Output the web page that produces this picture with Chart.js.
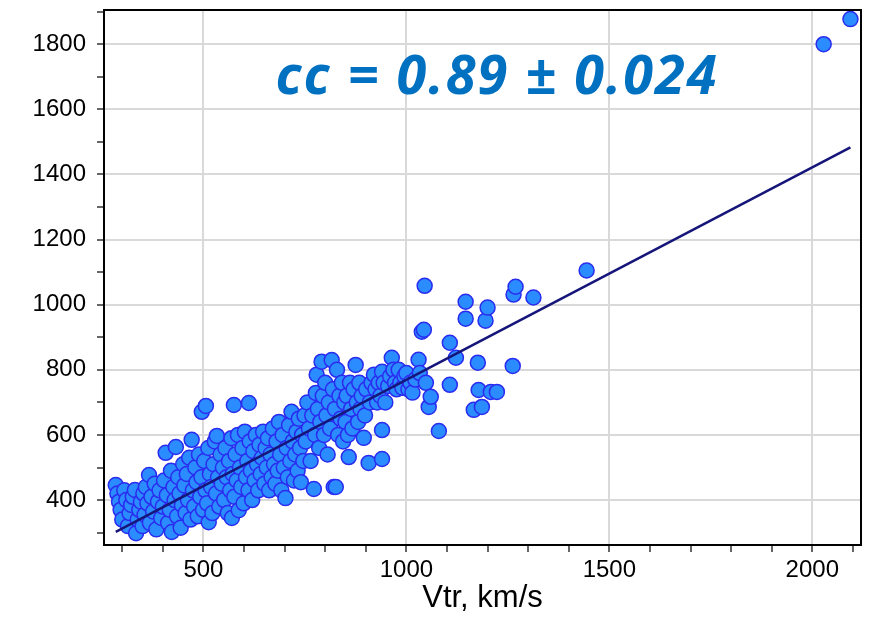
<!DOCTYPE html>
<html>
<head>
<meta charset="utf-8">
<script src="https://cdn.jsdelivr.net/npm/chart.js@4"></script>
<style>
  html, body { margin: 0; padding: 0; background: #fff; }
  .wrap { position: relative; width: 874px; height: 633px; }
  .cc-label {
    position: absolute; left: 247px; width: 500px; top: 36px;
    text-align: center; color: #0070c0;
    font: italic 700 54px "Open Sans", sans-serif;
    letter-spacing: 2px;
    white-space: nowrap;
  }
</style>
</head>
<body>
<div class="wrap">
  <canvas id="chart" width="874" height="633"></canvas>
  <div class="cc-label">cc = 0.89 ± 0.024</div>
</div>
<script>
/* speed values */
const vtr = [
  284, 288, 292, 296, 300, 305, 310, 314, 318, 322, 326, 331, 334, 338, 342, 346, 350, 352,
  355, 358, 362, 366, 368, 372, 376, 380, 384, 388, 392, 396, 400, 403, 407, 410, 413, 417, 420, 422, 426, 429, 432, 435, 438, 441, 444, 447, 450,
  453, 456, 459, 462, 465, 468, 471, 474, 477, 480, 483, 486, 489, 492, 495, 496, 499, 502, 505, 506, 509, 512, 513, 516, 519, 522, 525, 528, 531, 533, 536, 539, 542, 545, 548,
  551, 554, 557, 560, 563, 566, 569, 570, 572, 575, 576, 579, 582, 585, 587, 590, 593, 596, 599, 602, 605, 608, 611, 612, 614, 617, 620, 623, 626, 629, 632, 635, 638, 641, 644, 647, 650,
  653, 656, 659, 662, 665, 668, 671, 674, 677, 680, 683, 686, 689, 692, 695, 698, 702, 705, 708, 711, 714, 717, 720, 723, 726, 729, 732, 735, 738, 740, 743, 746, 749,
  752, 756, 760, 764, 768, 772, 775, 777, 779, 782, 785, 788, 791, 794, 797, 800, 803, 806, 809, 812, 816, 819, 821, 824, 826, 829, 832, 835, 838, 841, 844, 847, 850,
  853, 856, 858, 861, 864, 867, 870, 875, 878, 881, 884, 887, 890, 895, 898, 901, 907, 910, 914, 920, 924, 928, 932, 936, 940, 940, 940, 944, 948,
  955, 960, 964, 968, 972, 976, 981, 985, 990, 995, 1000, 1005, 1010, 1015, 1022, 1030, 1033, 1038, 1043, 1045, 1048, 1055, 1060, 1080,
  1107, 1107, 1122, 1146, 1146, 1166, 1176, 1178, 1186, 1195, 1200, 1208, 1223, 1262, 1264, 1269, 1313, 1444, 2028, 2094
];
const vcme = [
  446, 420, 395, 370, 340, 430, 400, 320, 360, 385, 410, 431, 298, 340, 370, 395, 320, 420,
  355, 440, 390, 477, 330, 410, 365, 450, 310, 395, 430, 345, 380, 460, 545, 415, 330, 370, 490, 302, 440, 400, 563, 350, 470, 420, 315, 385, 510,
  445, 360, 480, 400, 530, 340, 585, 430, 380, 500, 455, 350, 540, 410, 470, 671, 370, 520, 430, 689, 390, 560, 332, 480, 440, 360, 510, 580, 420, 597, 470, 380, 540, 450, 500,
  400, 560, 470, 360, 520, 430, 590, 345, 480, 692, 410, 540, 460, 600, 369, 500, 440, 560, 390, 610, 470, 520, 430, 698, 580, 490, 400, 550, 460, 600, 510, 430, 570, 480, 530, 610, 450,
  560, 500, 590, 430, 540, 470, 620, 510, 450, 580, 490, 640, 540, 430, 600, 500, 406, 560, 470, 630, 520, 671, 580, 460, 540, 610, 490, 650, 560, 455, 600, 520, 660,
  580, 700, 620, 520, 660, 434, 600, 729, 785, 680, 560, 640, 825, 720, 600, 760, 660, 540, 700, 620, 830, 740, 440, 680, 440, 800, 600, 720, 650, 760, 580, 700, 640,
  720, 600, 532, 760, 680, 620, 740, 815, 700, 640, 760, 680, 720, 591, 660, 740, 514, 700, 760, 785, 740, 700, 760, 720, 794, 615, 526, 760, 700,
  750, 780, 837, 800, 760, 740, 800, 760, 745, 780, 790, 740, 760, 730, 770, 831, 790, 917, 923, 1058, 760, 686, 717, 612,
  883, 754, 837, 1009, 957, 677, 822, 738, 686, 951, 991, 732, 732, 812, 1031, 1055, 1022, 1105, 1800, 1877
];
/* regression line end points */
const fitX = [284, 2094];
const fitY = [302, 1483];
/* axis ticks */
const xMajor = [500, 1000, 1500, 2000];
const yMajor = [400, 600, 800, 1000, 1200, 1400, 1600, 1800];

const points = vtr.map((v, i) => ({ x: v, y: vcme[i] }));
const fitLine = fitX.map((v, i) => ({ x: v, y: fitY[i] }));

function minorTicks(from, to, step) {
  const out = [];
  for (let v = from; v <= to; v += step) out.push({ value: v });
  return out;
}

/* box round the plot area */
const frame = {
  id: 'frame',
  afterDraw(chart) {
    const a = chart.chartArea, c = chart.ctx;
    c.save();
    c.strokeStyle = '#000';
    c.lineWidth = 2;
    c.strokeRect(a.left, a.top, a.right - a.left, a.bottom - a.top);
    c.restore();
  }
};

new Chart(document.getElementById('chart'), {
  type: 'scatter',
  data: {
    datasets: [{
      type: 'line',
      data: fitLine,
      borderColor: '#15157a',
      borderWidth: 2.5,
      pointRadius: 0,
      fill: false
    }, {
      data: points,
      backgroundColor: '#2a8cff',
      borderColor: '#2b2bf0',
      borderWidth: 1.5,
      pointRadius: 7.5
    }]
  },
  options: {
    responsive: false,
    animation: false,
    layout: { padding: { top: 10, right: 13, left: 0, bottom: 0 } },
    plugins: { legend: { display: false }, tooltip: { enabled: false } },
    scales: {
      x: {
        type: 'linear',
        min: 255,
        max: 2120,
        afterBuildTicks: axis => { axis.ticks = minorTicks(300, 2100, 100); },
        afterFit: axis => { axis.height = 88; axis.paddingLeft = 0; axis.paddingRight = 0; },
        border: { display: true, color: '#000', width: 2 },
        grid: {
          color: c => xMajor.includes(c.tick.value) ? '#d9d9d9' : 'transparent',
          lineWidth: 2,
          tickColor: '#666',
          tickLength: 7
        },
        ticks: {
          autoSkip: false,
          maxRotation: 0,
          padding: 4,
          color: '#000',
          font: { family: 'Liberation Sans, Arial', size: 24 },
          callback: v => xMajor.includes(v) ? String(v) : ''
        },
        title: {
          display: true,
          text: 'Vtr, km/s',
          color: '#000',
          font: { family: 'Liberation Sans, Arial', size: 31 },
          padding: { top: 0, bottom: 16 }
        }
      },
      y: {
        type: 'linear',
        min: 262,
        max: 1905,
        afterBuildTicks: axis => { axis.ticks = minorTicks(300, 1900, 100); },
        afterFit: axis => { axis.width = 104; axis.paddingTop = 0; axis.paddingBottom = 0; },
        border: { display: true, color: '#000', width: 2 },
        grid: {
          color: c => yMajor.includes(c.tick.value) ? '#d9d9d9' : 'transparent',
          lineWidth: 2,
          tickColor: '#666',
          tickLength: 7
        },
        ticks: {
          autoSkip: false,
          padding: 11,
          color: '#000',
          font: { family: 'Liberation Sans, Arial', size: 24 },
          callback: v => yMajor.includes(v) ? String(v) : ''
        }
      }
    }
  },
  plugins: [frame]
});
</script>
</body>
</html>
